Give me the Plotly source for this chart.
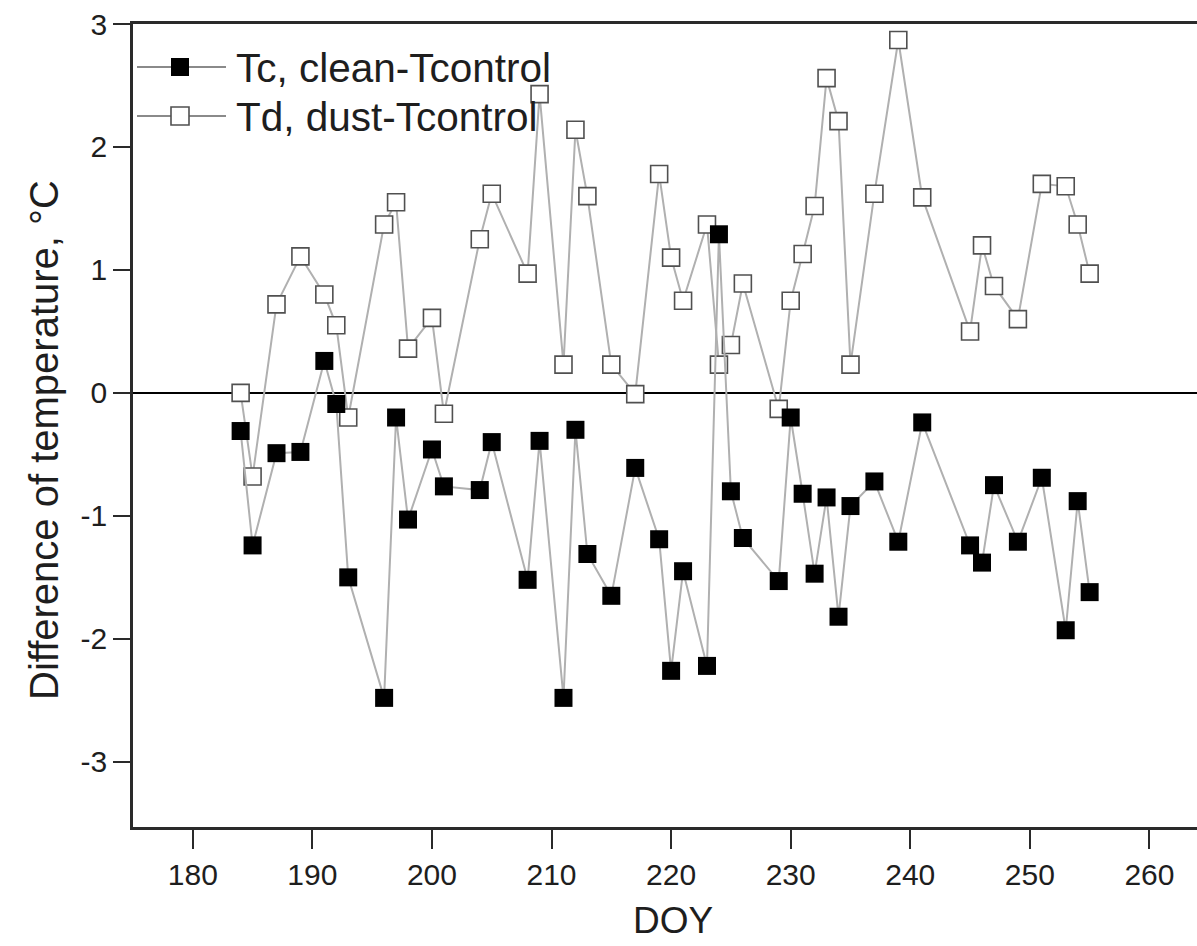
import plotly.graph_objects as go

# ---- data ----
doy = [184, 185, 187, 189, 191, 192, 193, 196, 197, 198, 200, 201, 204, 205,
       208, 209, 211, 212, 213, 215, 217, 219, 220, 221, 223, 224, 225, 226,
       229, 230, 231, 232, 233, 234, 235, 237, 239, 241, 245, 246, 247, 249,
       251, 253, 254, 255]

tc_clean = [-0.31, -1.24, -0.49, -0.48, 0.26, -0.09, -1.50, -2.48, -0.20, -1.03,
            -0.46, -0.76, -0.79, -0.40, -1.52, -0.39, -2.48, -0.30, -1.31, -1.65,
            -0.61, -1.19, -2.26, -1.45, -2.22, 1.29, -0.80, -1.18, -1.53, -0.20,
            -0.82, -1.47, -0.85, -1.82, -0.92, -0.72, -1.21, -0.24, -1.24, -1.38,
            -0.75, -1.21, -0.69, -1.93, -0.88, -1.62]

td_dust = [0.00, -0.68, 0.72, 1.11, 0.80, 0.55, -0.20, 1.37, 1.55, 0.36,
           0.61, -0.17, 1.25, 1.62, 0.97, 2.43, 0.23, 2.14, 1.60, 0.23,
           -0.01, 1.78, 1.10, 0.75, 1.37, 0.23, 0.39, 0.89, -0.13, 0.75,
           1.13, 1.52, 2.56, 2.21, 0.23, 1.62, 2.87, 1.59, 0.50, 1.20,
           0.87, 0.60, 1.70, 1.68, 1.37, 0.97]

x_ticks = [180, 190, 200, 210, 220, 230, 240, 250, 260]
y_ticks = [-3, -2, -1, 0, 1, 2, 3]
y_ticktext = ["-3", "-2", "-1", "0", "1", "2", "3"]

series_names = ["Tc, clean-Tcontrol", "Td, dust-Tcontrol"]

# ---- figure ----
W, H = 1197, 946
ML, MR, MT, MB = 133, 0, 24, 119
PW, PH = W - ML - MR, H - MT - MB

def px(x):
    return (x - ML) / PW

def py(y):
    return (H - MB - y) / PH

FONT = "Liberation Sans, Arial, sans-serif"
TXT = "#1e1e1e"
LINE_GRAY = "#b0b0b0"
AXIS = "#2a2a2a"

fig = go.Figure()

fig.add_trace(go.Scatter(
    x=doy, y=td_dust, mode="lines+markers", name=series_names[1],
    line=dict(color=LINE_GRAY, width=2),
    marker=dict(symbol="square", size=17, color="white",
                line=dict(color="#505050", width=1.6)),
    showlegend=False,
))

fig.add_trace(go.Scatter(
    x=doy, y=tc_clean, mode="lines+markers", name=series_names[0],
    line=dict(color=LINE_GRAY, width=2),
    marker=dict(symbol="square", size=18, color="black",
                line=dict(color="black", width=0)),
    showlegend=False,
))

# ---- custom legend (top-left, inside plot) ----
shapes = []
annotations = []
legend_rows = [(67, "black", "black", 0), (116, "white", "#505050", 1.6)]
for (ycen, fill, edge, ew), name in zip(legend_rows, series_names):
    shapes.append(dict(type="line", xref="paper", yref="paper",
                       x0=px(137), x1=px(226), y0=py(ycen), y1=py(ycen),
                       line=dict(color="#8a8a8a", width=2)))
    shapes.append(dict(type="rect", xref="paper", yref="paper",
                       x0=px(171), x1=px(189), y0=py(ycen + 9), y1=py(ycen - 9),
                       fillcolor=fill, line=dict(color=edge, width=ew)))
    annotations.append(dict(text=name, xref="paper", yref="paper",
                            x=px(234), y=py(ycen + 1), xanchor="left", yanchor="middle",
                            showarrow=False, font=dict(family=FONT, size=40.5, color=TXT)))

# axis titles
annotations.append(dict(text="DOY", xref="paper", yref="paper",
                        x=px(673), y=py(920), xanchor="center", yanchor="middle",
                        showarrow=False, font=dict(family=FONT, size=37, color=TXT)))
annotations.append(dict(text="Difference of temperature, \u00b0C", xref="paper", yref="paper",
                        x=px(44), y=py(440), xanchor="center", yanchor="middle",
                        textangle=-90, showarrow=False,
                        font=dict(family=FONT, size=40, color=TXT)))

fig.update_layout(
    width=W, height=H,
    margin=dict(l=ML, r=MR, t=MT, b=MB, pad=0),
    paper_bgcolor="white", plot_bgcolor="white",
    shapes=shapes, annotations=annotations,
    showlegend=False,
)

fig.update_xaxes(
    range=[175, 175 + (W - ML - MR) / 11.958], tickvals=x_ticks,
    showgrid=False, zeroline=False,
    showline=True, linecolor=AXIS, linewidth=2.5, mirror=True,
    ticks="outside", ticklen=19, tickwidth=2, tickcolor=AXIS,
    tickfont=dict(family=FONT, size=30, color=TXT),
)
fig.update_yaxes(
    range=[-3.53, 3.0], tickvals=y_ticks, ticktext=y_ticktext,
    showgrid=False,
    zeroline=True, zerolinecolor="black", zerolinewidth=2,
    showline=True, linecolor=AXIS, linewidth=2.5, mirror=False,
    ticks="outside", ticklen=17, tickwidth=2, tickcolor=AXIS,
    tickfont=dict(family=FONT, size=30, color=TXT),
)

fig.write_html("out.html")
